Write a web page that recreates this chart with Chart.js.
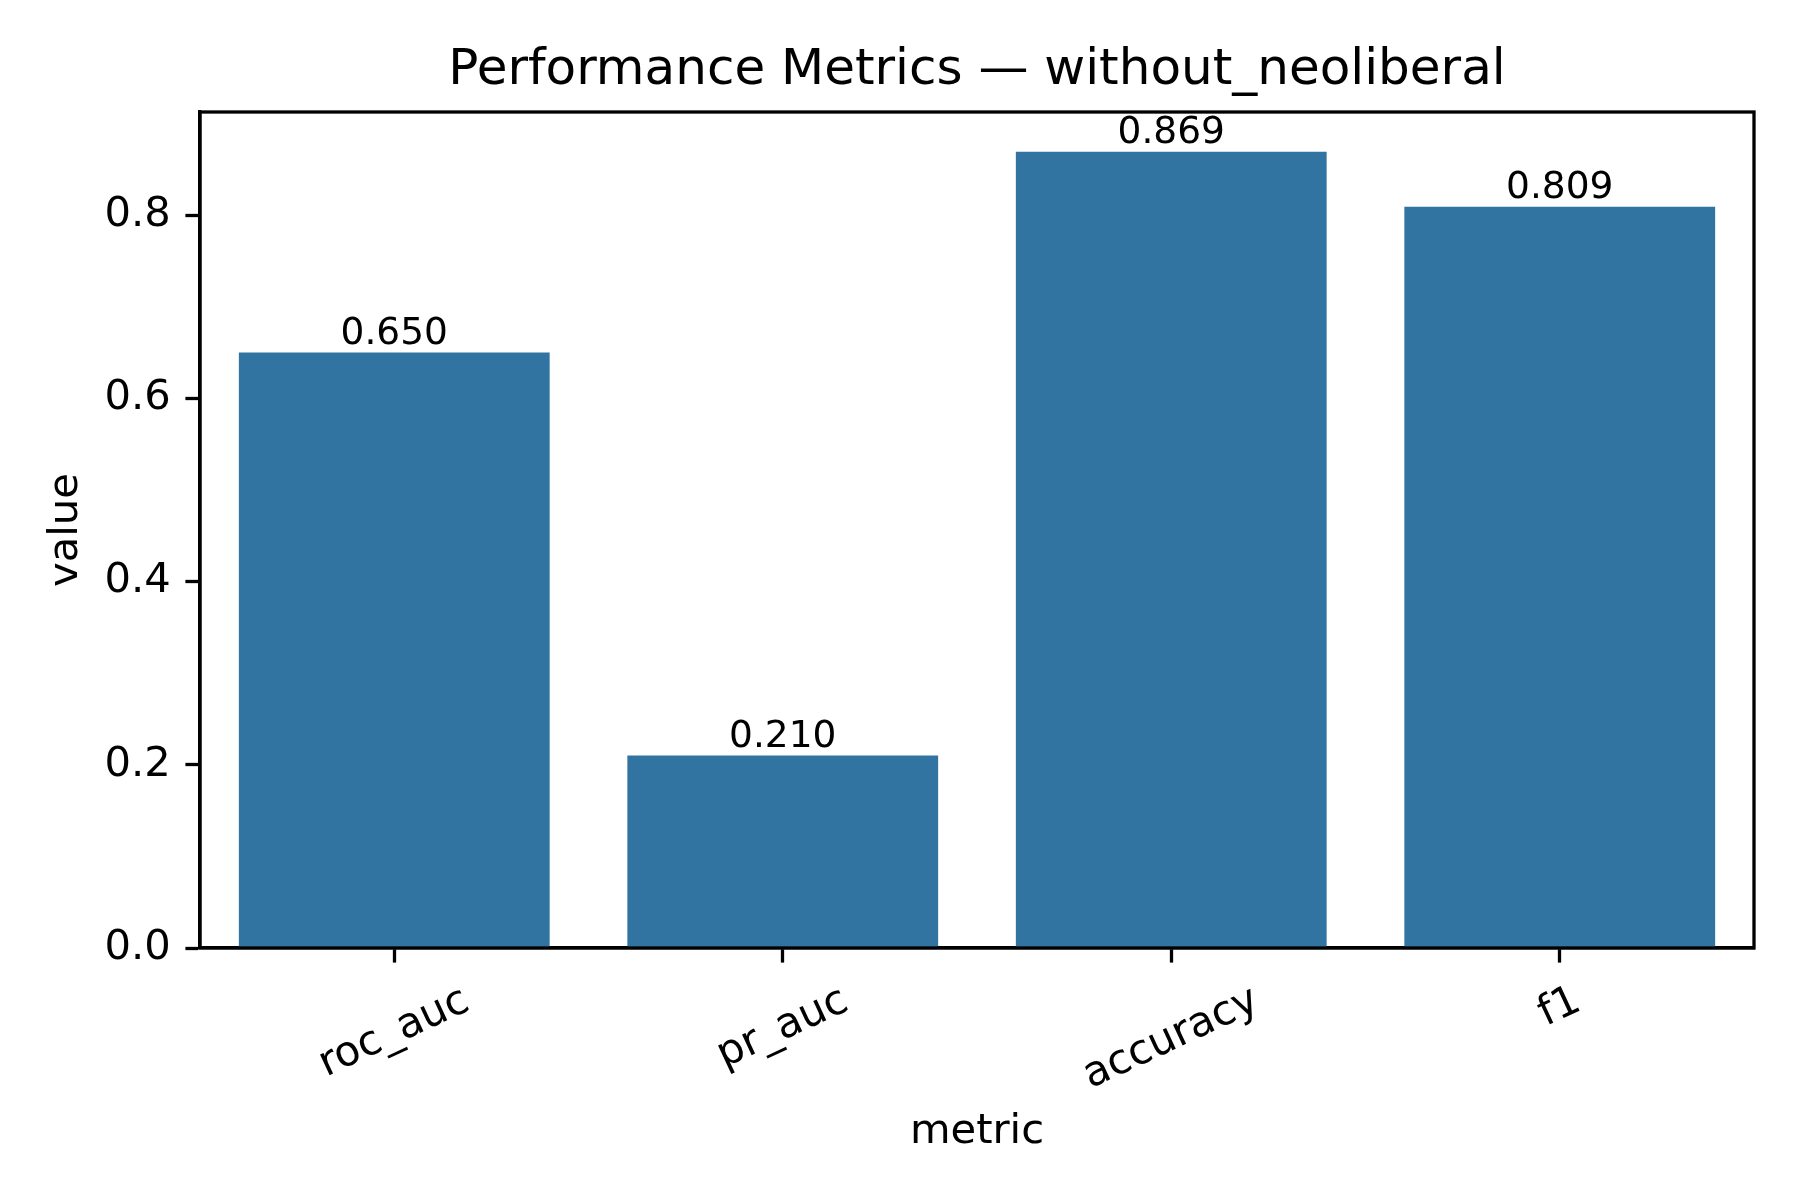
<!DOCTYPE html>
<html>
<head>
<meta charset="utf-8">
<script src="https://cdn.jsdelivr.net/npm/chart.js@4.4.1/dist/chart.umd.min.js"></script>
<style>
  html, body { margin: 0; padding: 0; background: #ffffff; }
  #wrap { width: 1800px; height: 1200px; }
</style>
</head>
<body>
<div id="wrap"><canvas id="c" width="1800" height="1200"></canvas></div>
<script>
const categories = ["roc_auc", "pr_auc", "accuracy", "f1"];
const values = [0.650, 0.210, 0.869, 0.809];
const valueLabels = ["0.650", "0.210", "0.869", "0.809"];
const yTicks = [0.0, 0.2, 0.4, 0.6, 0.8];
const yMax = 0.91245;

const FONT = "'DejaVu Sans', 'Liberation Sans', sans-serif";
const BAR_COLOR = "#3274a1";

const overlay = {
  id: "overlay",
  afterDraw(chart) {
    const ctx = chart.ctx;
    const a = chart.chartArea;
    const xs = chart.scales.x;
    ctx.save();
    // frame (top/right spines)
    ctx.strokeStyle = "#000";
    ctx.lineWidth = 3.3;
    ctx.strokeRect(a.left, a.top, a.right - a.left, a.bottom - a.top);

    // bar value labels
    const meta = chart.getDatasetMeta(0);
    ctx.fillStyle = "#000";
    ctx.font = "37.5px " + FONT;
    ctx.textAlign = "center";
    ctx.textBaseline = "alphabetic";
    meta.data.forEach((bar, i) => {
      ctx.fillText(valueLabels[i], bar.x, bar.y - 8.5);
    });

    // rotated x tick labels (centered under tick, like matplotlib)
    const ang = 25 * Math.PI / 180;
    ctx.font = "41.7px " + FONT;
    categories.forEach((lab, i) => {
      const px = xs.getPixelForValue(i);
      const w = ctx.measureText(lab).width;
      const h = 41.7 * 1.16;
      const bboxH = w * Math.sin(ang) + h * Math.cos(ang);
      const top = a.bottom + 14.6 + 14.6;
      const cy = top + bboxH / 2;
      ctx.save();
      ctx.translate(px, cy);
      ctx.rotate(-ang);
      ctx.textAlign = "center";
      ctx.textBaseline = "middle";
      ctx.fillText(lab, 0, 0);
      ctx.restore();
    });
    ctx.restore();
  }
};

new Chart(document.getElementById("c"), {
  type: "bar",
  data: {
    labels: categories,
    datasets: [{
      data: values,
      backgroundColor: BAR_COLOR,
      borderWidth: 0,
      categoryPercentage: 1.0,
      barPercentage: 0.8
    }]
  },
  options: {
    responsive: false,
    animation: false,
    devicePixelRatio: 1,
    layout: { padding: { left: 0, right: 46, top: 0, bottom: 0 } },
    plugins: {
      legend: { display: false },
      tooltip: { enabled: false },
      title: {
        display: true,
        text: "Performance Metrics \u2014 without_neoliberal",
        fullSize: false,
        color: "#000",
        font: { family: FONT, size: 50, weight: "normal", lineHeight: 1.2 },
        padding: { top: 41, bottom: 11 }
      }
    },
    scales: {
      x: {
        type: "category",
        offset: true,
        grid: {
          offset: false,
          drawOnChartArea: false,
          drawTicks: true,
          tickLength: 14.6,
          tickWidth: 3.3,
          tickColor: "#000"
        },
        border: { display: true, color: "#000", width: 3.3 },
        ticks: { display: false },
        title: {
          display: true,
          text: "metric",
          color: "#000",
          font: { family: FONT, size: 41.7, lineHeight: 1.2 },
          padding: { top: 0, bottom: 43 }
        },
        afterFit(scale) { scale.height = 252; }
      },
      y: {
        min: 0,
        max: yMax,
        grid: {
          drawOnChartArea: false,
          drawTicks: true,
          tickLength: 14.6,
          tickWidth: 3.3,
          tickColor: "#000"
        },
        border: { display: true, color: "#000", width: 3.3 },
        afterBuildTicks(scale) {
          scale.ticks = yTicks.map(v => ({ value: v }));
        },
        ticks: {
          color: "#000",
          padding: 14.6,
          font: { family: FONT, size: 41.7 },
          callback: (v) => Number(v).toFixed(1)
        },
        title: {
          display: true,
          text: "value",
          color: "#000",
          font: { family: FONT, size: 41.7, lineHeight: 1.2 },
          padding: { top: 41, bottom: 0 }
        },
        afterFit(scale) { scale.width = 200; }
      }
    }
  },
  plugins: [overlay]
});
</script>
</body>
</html>
